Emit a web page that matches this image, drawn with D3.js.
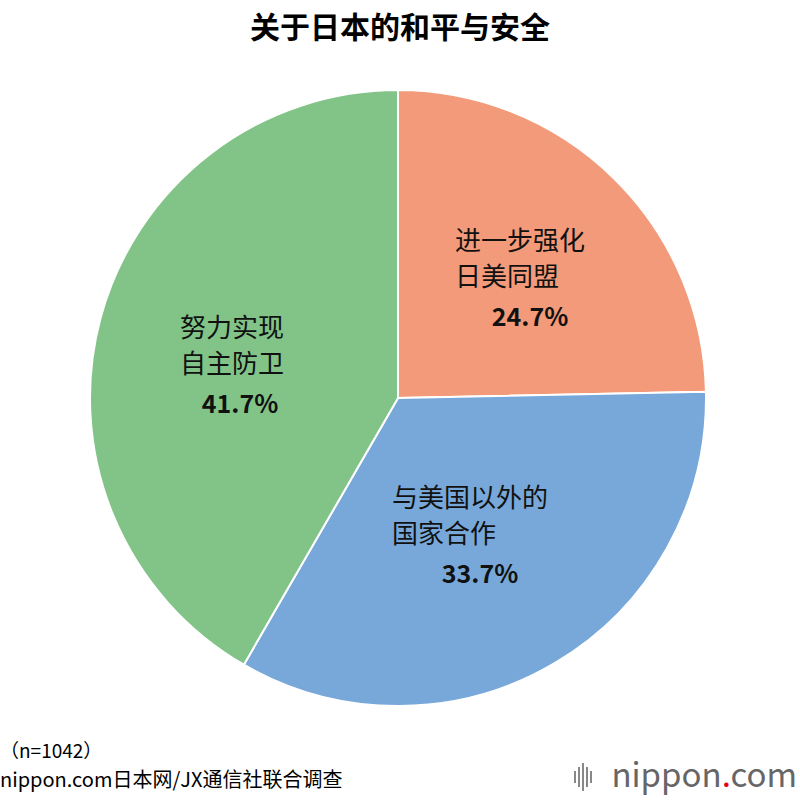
<!DOCTYPE html>
<html><head><meta charset="utf-8">
<script src="https://cdn.jsdelivr.net/npm/d3@7/dist/d3.min.js"></script>
<style>body{margin:0;background:#fff}text{font-family:"Noto Sans CJK SC","Noto Sans",sans-serif}</style>
</head><body><svg id="c" width="800" height="800"></svg>
<script>
const categories=[["进一步强化","日美同盟"],["与美国以外的","国家合作"],["努力实现","自主防卫"]];
const values=[24.7,33.7,41.7];
const colors=["#f29a79","#77a8d9","#82c488"];
const labelPos=[[455,238,530],[392,495,480],[180,325,240]]; // label text anchors
const svg=d3.select("#c");
svg.append("text").attr("x",400).attr("y",38).attr("text-anchor","middle").attr("font-size",30).attr("font-weight",700).text("关于日本的和平与安全");
const cx=398,cy=398,r=308;
const pie=d3.pie().sort(null).value(d=>d)(values);
const arc=d3.arc().innerRadius(0).outerRadius(r);
const g=svg.append("g").attr("transform",`translate(${cx},${cy})`);
g.selectAll("path").data(pie).join("path").attr("d",arc).attr("fill",(d,i)=>colors[i]).attr("stroke","#fff").attr("stroke-width",2);
pie.forEach((d,i)=>{
  const [x,y,px]=labelPos[i];
  categories[i].forEach((t,j)=>svg.append("text").attr("x",x).attr("y",y+j*36+12).attr("font-size",26).attr("fill","#111").text(t));
  svg.append("text").attr("x",px).attr("y",y+2*36+16).attr("text-anchor","middle").attr("font-size",25).attr("font-weight",700).attr("font-family","Roboto,sans-serif").attr("fill","#111").text(values[i].toFixed(1)+"%");
});
svg.append("text").attr("x",0).attr("y",758).attr("font-size",19).text("（n=1042）");
svg.append("text").attr("x",0).attr("y",787).attr("font-size",20).text("nippon.com日本网/JX通信社联合调查");
const lg=svg.append("text").attr("x",797).attr("y",787).attr("text-anchor","end").attr("font-size",33).attr("font-family","Roboto,sans-serif").attr("fill","#666");
lg.append("tspan").text("nippon");lg.append("tspan").attr("fill","#e60012").text(".");lg.append("tspan").text("com");
const bars=[6,10,14,10,6];
bars.forEach((h,i)=>svg.append("rect").attr("x",574+i*4).attr("y",777-h).attr("width",2).attr("height",h*2).attr("fill","#888"));
</script></body></html>
